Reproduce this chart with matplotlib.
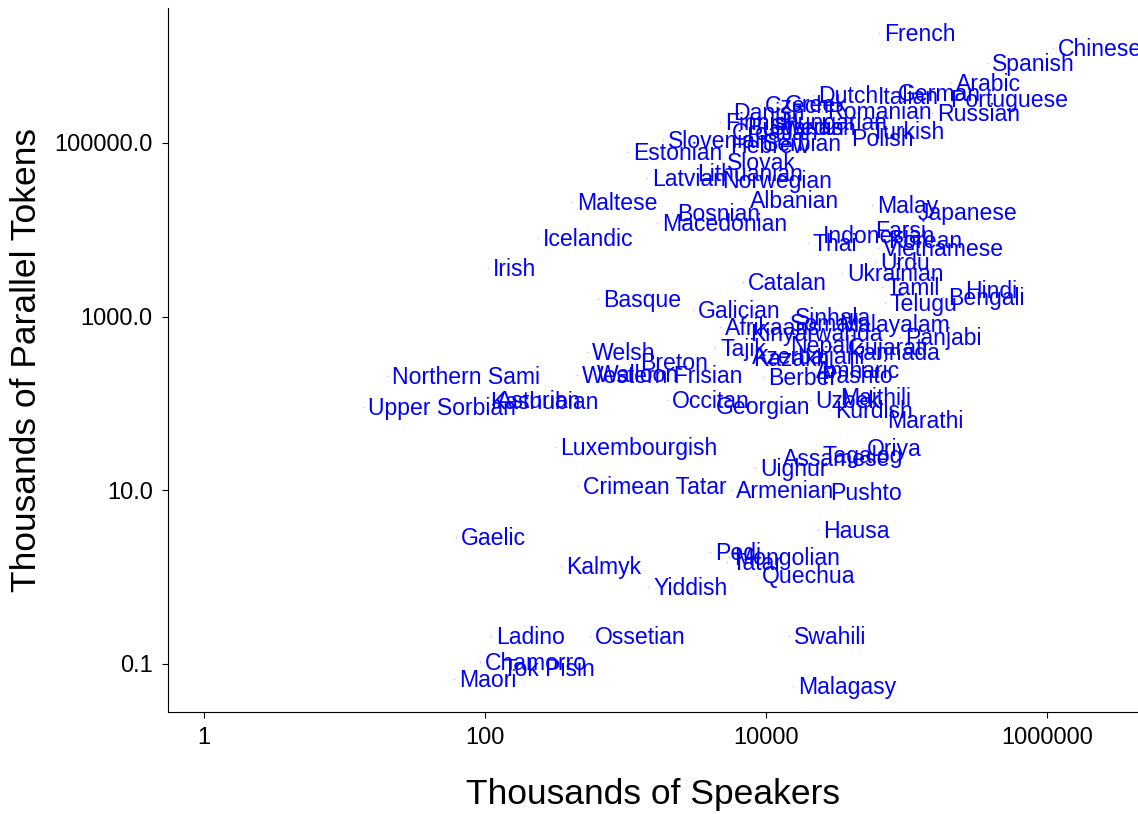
"""Parallel tokens versus number of speakers, one label per language."""

from matplotlib import pyplot

languages = [
    'French', 'Chinese', 'Spanish', 'Arabic', 'German', 'Portuguese',
    'Dutch', 'Italian', 'Russian', 'Romanian', 'Turkish', 'Polish',
    'Czech', 'Greek', 'Danish', 'Hungarian', 'Finnish', 'Bulgarian',
    'Swedish', 'Slovenian', 'Croatian', 'Hebrew', 'Serbian', 'Estonian',
    'Slovak', 'Latvian', 'Lithuanian', 'Norwegian', 'Albanian', 'Maltese',
    'Bosnian', 'Macedonian', 'Icelandic', 'Irish', 'Malay', 'Japanese',
    'Indonesian', 'Thai', 'Farsi', 'Korean', 'Vietnamese', 'Urdu',
    'Ukrainian', 'Tamil', 'Hindi', 'Bengali', 'Telugu', 'Catalan',
    'Basque', 'Galician', 'Sinhala', 'Somali', 'Afrikaans', 'Kinyarwanda',
    'Malayalam', 'Panjabi', 'Tajik', 'Nepali', 'Gujarati', 'Kannada',
    'Kazakh', 'Azerbaijani', 'Amharic', 'Pashto', 'Berber',
    'Western Frisian', 'Walloon', 'Welsh', 'Breton', 'Northern Sami',
    'Upper Sorbian', 'Asturian', 'Kashubian', 'Occitan', 'Georgian',
    'Uzbek', 'Maithili', 'Kurdish', 'Marathi', 'Oriya', 'Tagalog',
    'Assamese', 'Uighur', 'Armenian', 'Pushto', 'Luxembourgish',
    'Crimean Tatar', 'Hausa', 'Gaelic', 'Pedi', 'Mongolian', 'Tatar',
    'Quechua', 'Kalmyk', 'Yiddish', 'Ladino', 'Ossetian', 'Swahili',
    'Chamorro', 'Tok Pisin', 'Maori', 'Malagasy',
]

# thousands of speakers
speakers = [
    64000, 1100000, 374000, 207000, 80200, 188000,
    21600, 57800, 152000, 25000, 50700, 37100,
    9060, 12600, 5370, 11800, 4710, 6750,
    9840, 1850, 5280, 5110, 8770, 1040,
    4860, 1420, 2970, 4480, 7090, 416,
    2140, 1680, 238, 105, 56800, 111000,
    23400, 19900, 55000, 68000, 62700, 59700,
    34700, 66900, 240000, 182000, 70300, 6860,
    637, 3020, 14800, 13700, 4710, 7090,
    30500, 89900, 4340, 13700, 35300, 35300,
    7450, 7330, 20900, 22700, 9520,
    452, 578, 532, 1170, 20.1,
    13.5, 112, 100, 1970, 4060,
    20600, 31000, 28600, 66900, 48200, 23100,
    12200, 8350, 5640, 26300, 315,
    459, 23400, 62, 3990, 5450, 5280,
    8630, 347, 1450, 110, 559, 14600,
    92, 124, 60, 15600,
]

# thousands of parallel tokens
tokens = [
    1850000, 1240000, 836000, 491000, 377000, 321000,
    357000, 348000, 222000, 234000, 137000, 114000,
    274000, 281000, 228000, 175000, 175000, 153000,
    153000, 108000, 134000, 94900, 100000, 78700,
    60400, 39500, 45100, 37500, 22000, 20900,
    15600, 12000, 8060, 3630, 19300, 16000,
    8710, 7050, 9950, 7620, 6170, 4250,
    3180, 2190, 2020, 1680, 1440, 2510,
    1600, 1190, 989, 843, 759, 647,
    822, 582, 435, 471, 447, 391,
    333, 352, 243, 212, 201,
    212, 218, 391, 300, 207,
    91, 109, 107, 109, 93,
    109, 119, 84, 64, 30.6, 25.5,
    23.5, 18.0, 10.0, 9.5, 31.5,
    11.2, 3.5, 2.9, 1.94, 1.70, 1.49,
    1.05, 1.34, 0.77, 0.21, 0.21, 0.21,
    0.105, 0.0896, 0.0668, 0.0555,
]

xticks = [1, 100, 10000, 1000000]
xticklabels = ['1', '100', '10000', '1000000']
yticks = [0.1, 10, 1000, 100000]
yticklabels = ['0.1', '10.0', '1000.0', '100000.0']

pyplot.rc('font', family='Liberation Sans')
fig = pyplot.figure(figsize=(11.38, 8.14), dpi=100)
ax = fig.add_axes([0.1476, 0.1253, 0.8524, 0.8649])
ax.set_xscale('log')
ax.set_yscale('log')

# Tiny pale dots at the data points, labels just right of them.
ax.scatter(speakers, tokens, s=1.5, color='#c8c8e6', linewidths=0)
for name, xi, yi in zip(languages, speakers, tokens):
    ax.annotate(name, (xi, yi), xytext=(3.6, -1.1), textcoords='offset points',
                ha='left', va='center', color='#0000ff', fontsize=16.6,
                annotation_clip=False)

ax.set_xlim(10**-0.256, 10**6.648)
ax.set_ylim(10**-1.555, 10**6.555)
ax.set_xticks(xticks)
ax.set_xticklabels(xticklabels)
ax.set_yticks(yticks)
ax.set_yticklabels(yticklabels)
ax.minorticks_off()
ax.tick_params(labelsize=17, length=4, width=0.8, pad=7, colors='black')
ax.set_xlabel('Thousands of Speakers', fontsize=25.5, labelpad=21)
ax.set_ylabel('Thousands of Parallel Tokens', fontsize=25.5, labelpad=8)
ax.spines['top'].set_visible(False)
ax.spines['right'].set_visible(False)

fig.savefig('out.png', dpi=100)
